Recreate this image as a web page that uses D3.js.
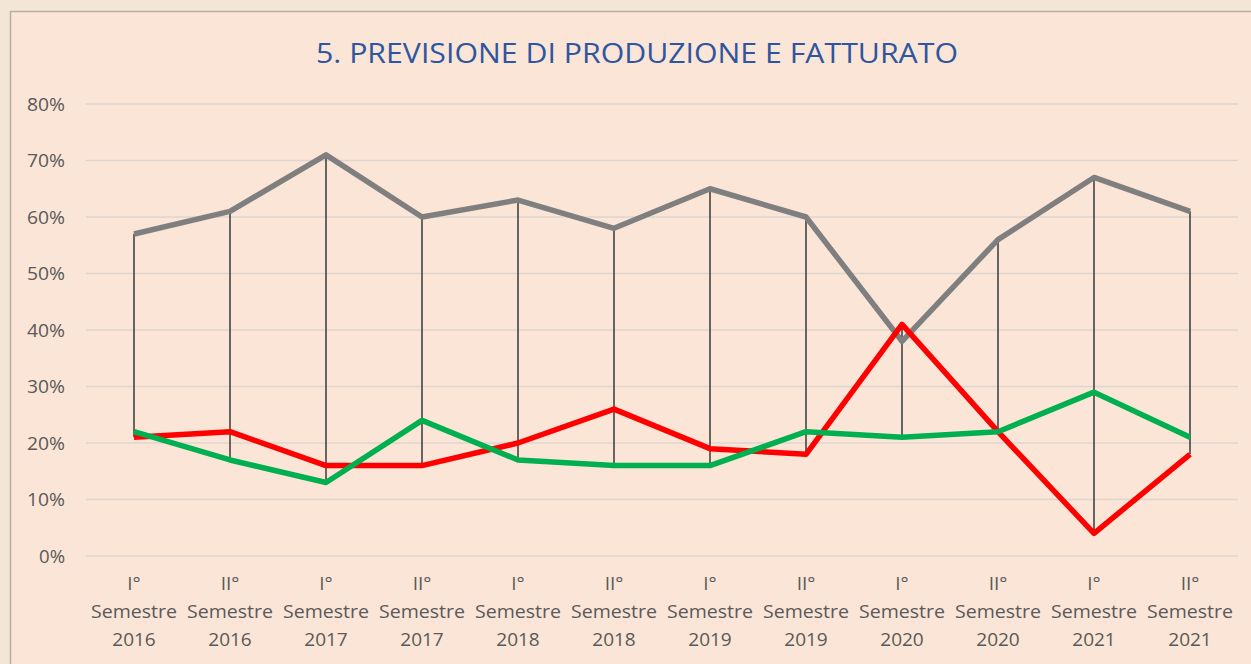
<!DOCTYPE html>
<html>
<head>
<meta charset="utf-8">
<script src="https://d3js.org/d3.v7.min.js"></script>
<style>
  body {margin: 0; background: #f4e6d7;}
  #chart {display: block; font-family: "Open Sans", "Noto Sans", sans-serif;}
  .grid line {stroke: #dcd6d0; stroke-width: 1.3px;}
  .ylab {fill: #595959; font-size: 19px;}
  .xlab {fill: #595959; font-size: 19px;}
  #title {fill: #2e56a0; font-size: 28px; text-anchor: middle;}
</style>
</head>
<body>
<svg id="chart" width="1251" height="664"></svg>
<script>
var categories = ["I° Semestre 2016", "II° Semestre 2016", "I° Semestre 2017", "II° Semestre 2017",
  "I° Semestre 2018", "II° Semestre 2018", "I° Semestre 2019", "II° Semestre 2019",
  "I° Semestre 2020", "II° Semestre 2020", "I° Semestre 2021", "II° Semestre 2021"];
var grayValues  = [57, 61, 71, 60, 63, 58, 65, 60, 38, 56, 67, 61];
var redValues   = [21, 22, 16, 16, 20, 26, 19, 18, 41, 22, 4, 18];
var greenValues = [22, 17, 13, 24, 17, 16, 16, 22, 21, 22, 29, 21];
var yTicks = [0, 10, 20, 30, 40, 50, 60, 70, 80];

var svg = d3.select("#chart");

// chart area with border
svg.append("rect")
  .attr("x", 10.5).attr("y", 11.5)
  .attr("width", 1260).attr("height", 680)
  .attr("fill", "#fbe5d7")
  .attr("stroke", "#b3aea8").attr("stroke-width", 1.5);

svg.append("text").attr("id", "title")
  .attr("x", 637).attr("y", 63)
  .attr("textLength", 642).attr("lengthAdjust", "spacingAndGlyphs")
  .text("5. PREVISIONE DI PRODUZIONE E FATTURATO");

var x = d3.scaleBand().domain(categories).range([86, 1238]);
var y = d3.scaleLinear().domain([0, 80]).range([556, 104]);
var cx = function(i) { return x(categories[i]) + x.bandwidth() / 2; };

// gridlines
svg.append("g").attr("class", "grid")
  .selectAll("line").data(yTicks).enter().append("line")
  .attr("x1", 86).attr("x2", 1238)
  .attr("y1", function(d) { return y(d); })
  .attr("y2", function(d) { return y(d); });

svg.append("g").selectAll("text").data(yTicks).enter().append("text")
  .attr("class", "ylab")
  .attr("x", 65).attr("y", function(d) { return y(d); })
  .attr("dy", "0.35em").attr("text-anchor", "end")
  .attr("textLength", function(d) { return d === 0 ? 26 : 38; })
  .attr("lengthAdjust", "spacingAndGlyphs")
  .text(function(d) { return d + "%"; });

// category labels, three lines each
var xl = svg.append("g").selectAll("text").data(categories).enter().append("text")
  .attr("class", "xlab").attr("text-anchor", "middle")
  .attr("transform", function(d) { return "translate(" + (x(d) + x.bandwidth() / 2) + ",0)"; });
xl.each(function(d) {
  var parts = d.split(" ");
  var t = d3.select(this);
  parts.forEach(function(p, k) {
    var ts = t.append("tspan").attr("x", 0).attr("y", 590 + k * 28).text(p);
    if (p === "Semestre") ts.attr("textLength", 86).attr("lengthAdjust", "spacingAndGlyphs");
  });
});

// high-low lines
svg.append("g").selectAll("line").data(categories).enter().append("line")
  .attr("x1", function(d, i) { return cx(i); })
  .attr("x2", function(d, i) { return cx(i); })
  .attr("y1", function(d, i) { return y(Math.max(grayValues[i], redValues[i], greenValues[i])); })
  .attr("y2", function(d, i) { return y(Math.min(grayValues[i], redValues[i], greenValues[i])); })
  .attr("stroke", "#3a3a3a").attr("stroke-width", 1.5);

var line = d3.line()
  .x(function(d, i) { return cx(i); })
  .y(function(d) { return y(d); });

[[grayValues, "#7f7f7f"], [redValues, "#ff0000"], [greenValues, "#00b050"]].forEach(function(s) {
  svg.append("path")
    .attr("d", line(s[0]))
    .attr("fill", "none")
    .attr("stroke", s[1])
    .attr("stroke-width", 5.5)
    .attr("stroke-linejoin", "round");
});
</script>
</body>
</html>
